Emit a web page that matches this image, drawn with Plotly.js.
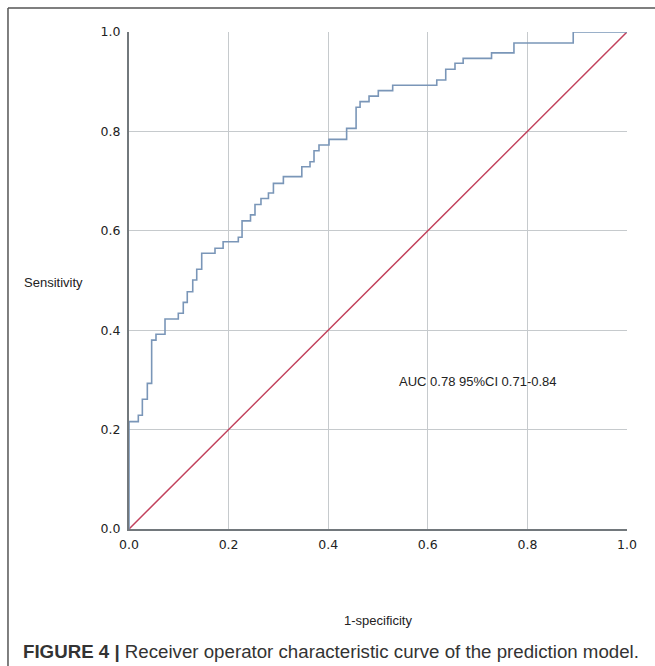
<!DOCTYPE html>
<html>
<head>
<meta charset="utf-8">
<script src="https://cdn.plot.ly/plotly-3.0.1.min.js"></script>
<style>
html,body{margin:0;padding:0;background:#fff;}
#chart{width:655px;height:666px;}
</style>
</head>
<body>
<div id="chart"></div>
<script>
// ROC curve corner points (1-specificity, sensitivity)
var fpr = [0, 0, 0.0187, 0.0268, 0.0368, 0.0455, 0.0542, 0.0723, 0.099, 0.109,
  0.117, 0.128, 0.136, 0.146, 0.1727, 0.189, 0.2195, 0.227, 0.244, 0.253,
  0.265, 0.28, 0.29, 0.31, 0.347, 0.3635, 0.3715, 0.3815, 0.4016, 0.437,
  0.456, 0.464, 0.482, 0.5006, 0.5295, 0.618, 0.636, 0.6546, 0.671, 0.728,
  0.773, 0.892, 1.0];
var tpr = [0, 0.216, 0.229, 0.261, 0.293, 0.380, 0.392, 0.4225, 0.434, 0.456,
  0.4775, 0.501, 0.5225, 0.5547, 0.565, 0.578, 0.587, 0.620, 0.632, 0.653,
  0.665, 0.676, 0.6955, 0.709, 0.729, 0.739, 0.761, 0.7726, 0.784, 0.806,
  0.8485, 0.86, 0.871, 0.882, 0.893, 0.9034, 0.925, 0.937, 0.947, 0.958,
  0.978, 1.0, 1.0];
// Reference (chance) line
var refX = [0, 1];
var refY = [0, 1];
var tickVals = [0, 0.2, 0.4, 0.6, 0.8, 1.0];
var tickText = ["0.0", "0.2", "0.4", "0.6", "0.8", "1.0"];
var xTitle = "1-specificity";
var yTitle = "Sensitivity";
var aucText = "AUC 0.78 95%CI 0.71-0.84";
var aucPos = [0.5375, 0.296];
var caption = "<b>FIGURE 4 |</b> Receiver operator characteristic curve of the prediction model.";

var traces = [
  {x: refX, y: refY, mode: "lines", line: {color: "#c2415c", width: 1.5}, hoverinfo: "skip"},
  {x: fpr, y: tpr, mode: "lines", line: {color: "#7a96b8", width: 1.6, shape: "hv"}, hoverinfo: "skip"}
];

var axisCommon = {
  range: [0, 1],
  tickvals: tickVals,
  ticktext: tickText,
  showgrid: true,
  gridcolor: "#c6cacd",
  gridwidth: 1,
  zeroline: false,
  showline: true,
  linecolor: "#72787c",
  linewidth: 2,
  ticks: "",
  layer: "below traces",
  fixedrange: true,
  tickfont: {family: "DejaVu Sans", size: 12.5, color: "#222"}
};

var layout = {
  width: 655,
  height: 666,
  margin: {l: 129, r: 28, t: 32, b: 137},
  paper_bgcolor: "#fff",
  plot_bgcolor: "#fff",
  showlegend: false,
  xaxis: Object.assign({}, axisCommon, {ticklabelstandoff: 3}),
  yaxis: Object.assign({}, axisCommon, {ticklabelstandoff: 4}),
  annotations: [
    {text: aucText, x: aucPos[0], y: aucPos[1], xref: "x", yref: "y", xanchor: "left", yanchor: "middle",
     showarrow: false, font: {family: "Liberation Sans", size: 13, color: "#222"}},
    {text: yTitle, x: -0.2149, y: 0.4956, xref: "paper", yref: "paper", xanchor: "left", yanchor: "middle",
     showarrow: false, font: {family: "Liberation Sans", size: 13, color: "#222"}},
    {text: xTitle, x: 0.5, y: -0.185, xref: "paper", yref: "paper", xanchor: "center", yanchor: "middle",
     showarrow: false, font: {family: "Liberation Sans", size: 13, color: "#222"}},
    {text: caption, x: -0.2169, y: -0.2455, xref: "paper", yref: "paper", xanchor: "left", yanchor: "middle",
     showarrow: false, font: {family: "Liberation Sans", size: 18.7, color: "#333"}}
  ],
  shapes: [
    {type: "line", xref: "paper", yref: "paper", x0: -0.243, x1: 1.06, y0: 1.0483, y1: 1.0483,
     line: {color: "#555", width: 1.5}},
    {type: "line", xref: "paper", yref: "paper", x0: -0.243, x1: -0.243, y0: 1.0483, y1: -0.28,
     line: {color: "#555", width: 1.5}}
  ]
};

Plotly.newPlot("chart", traces, layout, {displayModeBar: false, staticPlot: true});
</script>
</body>
</html>
